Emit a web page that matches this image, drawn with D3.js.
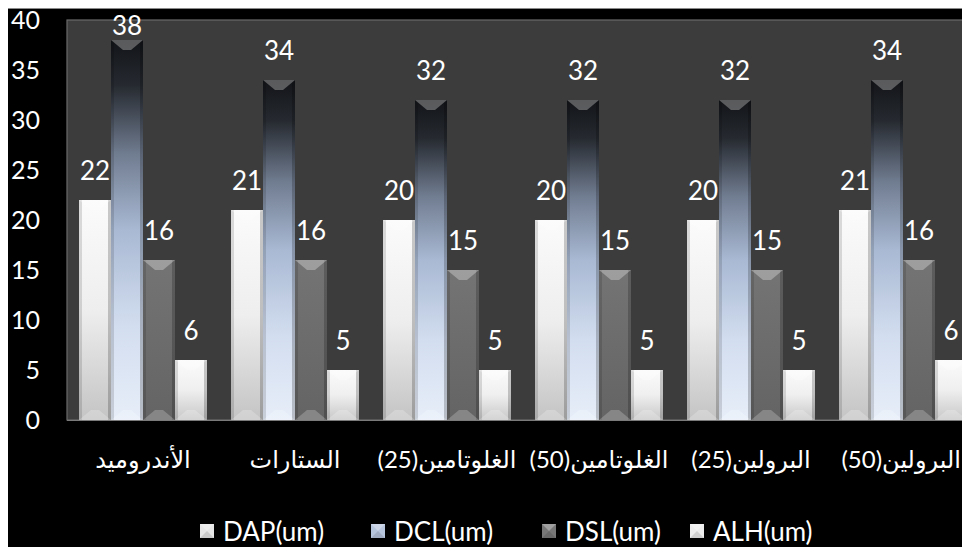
<!DOCTYPE html>
<html><head><meta charset="utf-8">
<script src="https://cdn.jsdelivr.net/npm/d3@7"></script>
<style>
html,body{margin:0;padding:0;background:#fff;overflow:hidden}
svg{display:block}
</style></head>
<body>
<script>
const categories = ["الأندروميد","الستارات","(25)الغلوتامين","(50)الغلوتامين","(25)البرولين","(50)البرولين"];
const seriesNames = ["DAP(um)","DCL(um)","DSL(um)","ALH(um)"];
const DAP = [22,21,20,20,20,21];
const DCL = [38,34,32,32,32,34];
const DSL = [16,16,15,15,15,16];
const ALH = [6,5,5,5,5,6];
const yTicks = [0,5,10,15,20,25,30,35,40];

const seriesValues = [DAP, DCL, DSL, ALH];
const W = 962, H = 547;
const plot = {left: 67, top: 20, bottom: 420, step: 152};

const svg = d3.select("body").append("svg").attr("width", W).attr("height", H);
const defs = svg.append("defs");

function vgrad(id, stops, horiz){
  const g = defs.append("linearGradient").attr("id", id)
    .attr("x1",0).attr("y1",0).attr("x2", horiz?1:0).attr("y2", horiz?0:1);
  stops.forEach(s => g.append("stop").attr("offset", s[0]).attr("stop-color", s[1]));
}
vgrad("gDAP", [[0,"#fbfbfb"],[0.5,"#eeeeee"],[1,"#c4c4c4"]]);
vgrad("gDCL", [[0,"#121418"],[0.12,"#262a30"],[0.3,"#707c90"],[0.5,"#a9b9d3"],[0.75,"#d2ddef"],[1,"#e7eef9"]]);
vgrad("gDSL", [[0,"#747474"],[1,"#646464"]]);
vgrad("gALH", [[0,"#fbfbfb"],[0.5,"#efefef"],[1,"#c8c8c8"]]);
const fills = ["url(#gDAP)","url(#gDCL)","url(#gDSL)","url(#gALH)"];
const legendFills = ["#e6e6e6","#b7c5dd","#777777","#ececec"];

// background
svg.append("rect").attr("width", W).attr("height", H).attr("fill", "#ffffff");
svg.append("rect").attr("x", 8).attr("y", 8).attr("width", W-8).attr("height", H-8).attr("fill", "#000000");
svg.append("line").attr("x1",8).attr("x2",W).attr("y1",8.5).attr("y2",8.5).attr("stroke","#8a8a8a");

const x = d3.scaleBand().domain(categories)
  .range([plot.left, plot.left + plot.step*categories.length])
  .paddingInner(24/152).paddingOuter(12/152);
const xs = d3.scaleBand().domain(seriesNames).range([0, x.bandwidth()]);
const y = d3.scaleLinear().domain([0,40]).range([plot.bottom, plot.top]);

// plot area
svg.append("rect").attr("x", plot.left).attr("y", plot.top)
  .attr("width", W + 40 - plot.left).attr("height", plot.bottom - plot.top)
  .attr("fill", "#3c3c3c").attr("stroke", "#6a6a6a").attr("stroke-width", 1.2);

// y axis (labels only)
const yAxis = d3.axisLeft(y).tickValues(yTicks).tickSize(0).tickPadding(0);
const ya = svg.append("g").attr("transform", "translate(40,0)").call(yAxis);
ya.select(".domain").remove();
ya.selectAll("text").attr("fill", "#ffffff").attr("font-family", "Lato, 'DejaVu Sans', sans-serif")
  .attr("font-size", 25).attr("dy", "0.34em");

// bars
const bars = svg.append("g");
categories.forEach((cat, ci) => {
  seriesNames.forEach((s, si) => {
    const v = seriesValues[si][ci];
    const x0 = x(cat) + xs(s), w = xs.bandwidth();
    const y0 = y(v), y1 = y(0);
    const xc = x0 + w/2;
    const g = bars.append("g");
    g.append("rect").attr("x", x0).attr("y", y0).attr("width", w).attr("height", y1 - y0).attr("fill", fills[si]);
    g.append("rect").attr("x", x0).attr("y", y0).attr("width", 3).attr("height", y1 - y0).attr("fill", "rgba(0,0,0,0.13)");
    g.append("rect").attr("x", x0 + w - 3).attr("y", y0).attr("width", 3).attr("height", y1 - y0).attr("fill", "rgba(0,0,0,0.2)");
    g.append("polygon").attr("points", [[x0,y0],[x0+w,y0],[xc+4,y0+10],[xc-4,y0+10]].map(p=>p.join(",")).join(" "))
      .attr("fill", si === 1 ? "rgba(150,150,150,0.55)" : "rgba(255,255,255,0.3)");
    g.append("polygon").attr("points", [[x0,y1],[x0+w,y1],[xc+4,y1-10],[xc-4,y1-10]].map(p=>p.join(",")).join(" "))
      .attr("fill", "rgba(255,255,255,0.22)");
    svg.append("text").attr("x", xc).attr("y", Math.max(y0 - 20, 35))
      .attr("text-anchor", "middle").attr("fill", "#ffffff")
      .attr("font-family", "Lato, 'DejaVu Sans', sans-serif").attr("font-size", 26)
      .text(v);
  });
});

// x axis labels
const xAxis = d3.axisBottom(x).tickSize(0).tickPadding(0).tickFormat(d => "\u200E" + d);
const xa = svg.append("g").attr("transform", `translate(0,${plot.bottom})`).call(xAxis);
xa.select(".domain").attr("stroke", "#7a7a7a").attr("d", `M${plot.left},0.5H${W}`);
xa.selectAll("text").attr("fill", "#ffffff").attr("font-family", "Lato, 'DejaVu Sans', sans-serif")
  .attr("font-size", 24).attr("direction", "ltr").attr("y", 40).attr("dy", "0.35em");
// keep the last label inside the picture
xa.selectAll(".tick").filter((d, i, n) => i === n.length - 1).select("text")
  .attr("text-anchor", "end").attr("x", W - 1 - x(categories[categories.length-1]) - x.bandwidth()/2);

// legend
const legendSquareX = [200, 371, 542, 690];
const lg = svg.append("g");
seriesNames.forEach((s, i) => {
  const lx = legendSquareX[i];
  lg.append("rect").attr("x", lx).attr("y", 524).attr("width", 14).attr("height", 14).attr("fill", legendFills[i]);
  lg.append("polygon").attr("points", `${lx},524 ${lx+14},524 ${lx+7},531`).attr("fill", "rgba(255,255,255,0.3)");
  lg.append("polygon").attr("points", `${lx},538 ${lx+14},538 ${lx+7},531`).attr("fill", "rgba(0,0,0,0.12)");
  lg.append("text").attr("x", lx + 23).attr("y", 541).attr("fill", "#ffffff")
    .attr("font-family", "Lato, 'DejaVu Sans', sans-serif").attr("font-size", 26).text(s);
});
</script>
</body></html>
